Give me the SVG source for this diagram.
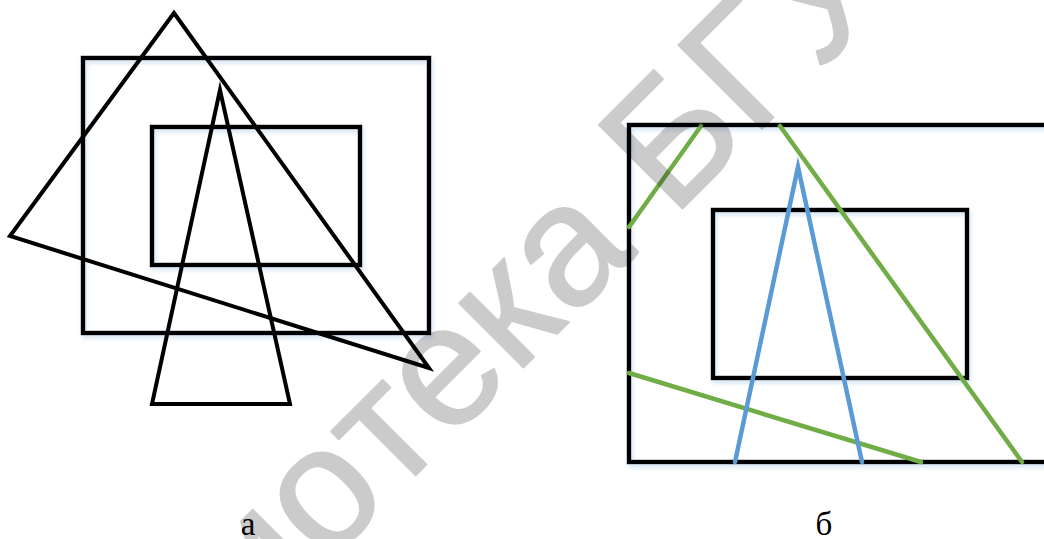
<svg xmlns="http://www.w3.org/2000/svg" width="1044" height="539" viewBox="0 0 1044 539">
  <style>
    .blk { fill: none; stroke: #000; stroke-width: 4; stroke-linejoin: miter; stroke-miterlimit: 20; }
    .rect { fill: none; stroke: #000; stroke-width: 4.5; filter: url(#glow); }
    .grn { fill: none; stroke: #70AD47; stroke-width: 4.5; stroke-linecap: round; }
    .blu { fill: none; stroke: #5B9BD5; stroke-width: 4.5; stroke-linecap: round; stroke-linejoin: miter; stroke-miterlimit: 20; }
    .lbl { font-family: "Liberation Serif", "Times New Roman", serif; font-size: 33px; fill: #000; }
    .wm { font-family: "Liberation Sans", Arial, sans-serif; font-size: 172px; fill: #000; stroke: #000; stroke-width: 2; stroke-linejoin: round; }
  </style>
  <defs>
    <filter id="glow" x="-10%" y="-10%" width="120%" height="130%">
      <feDropShadow dx="1.5" dy="3" stdDeviation="2" flood-color="#9DC3E6" flood-opacity="0.45"/>
    </filter>
  </defs>
  <rect width="1044" height="539" fill="#fff"/>

  <g id="figure-a">
    <rect id="a-outer" class="rect" x="83" y="58" width="346" height="275"/>
    <rect id="a-inner" class="rect" x="152" y="127" width="208" height="138"/>
    <polygon id="a-big-triangle" class="blk" points="174,13 10,236 429,368"/>
    <polygon id="a-narrow-triangle" class="blk" points="220,90 152,404 290,404"/>
  </g>

  <g id="figure-b">
    <rect id="b-outer" class="rect" x="629" y="125" width="440" height="337"/>
    <rect id="b-inner" class="rect" x="713" y="210" width="254" height="168"/>
  </g>

  <g id="connectors">
    <line class="grn" x1="701" y1="126" x2="629" y2="227"/>
    <line class="grn" x1="780" y1="126" x2="1022" y2="462"/>
    <line class="grn" x1="629" y1="373" x2="921" y2="462"/>
    <polyline class="blu" points="735,462 798,167 862,462"/>
  </g>

  <g id="labels">
    <text class="lbl" x="248" y="535" text-anchor="middle">а</text>
    <text class="lbl" x="824" y="535" text-anchor="middle">б</text>
  </g>

  <g id="watermark" opacity="0.2">
    <text class="wm" transform="rotate(-45)" y="630"><tspan x="-74" text-anchor="end">Библио</tspan><tspan x="-74" text-anchor="start">тека БГУ</tspan></text>
  </g>
</svg>
